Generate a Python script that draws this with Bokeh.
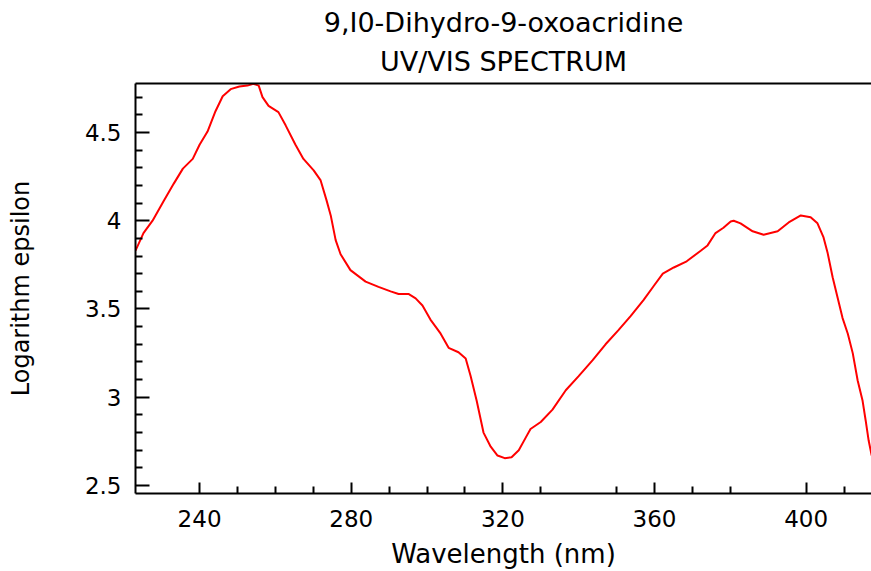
from bokeh.plotting import figure
from bokeh.models import Range1d, FixedTicker, LinearAxis, Title, CustomJSTickFormatter
from bokeh.embed import file_html
from bokeh.resources import INLINE

wavelength_nm = [223.1, 225.2, 227.6, 230.5, 233.2, 235.6, 238.2, 240.0, 242.1, 244.2,
                 246.1, 248.2, 250.5, 252.6, 254.2, 255.6, 256.6, 258.2, 260.8, 262.7,
                 265.3, 267.4, 270.1, 271.9, 273.5, 274.6, 275.9, 277.2, 279.8, 283.8,
                 287.2, 290.4, 292.5, 295.1, 297.0, 298.8, 300.9, 303.6, 305.7, 308.3,
                 310.2, 311.5, 313.1, 314.9, 316.8, 318.6, 320.5, 322.3, 324.2, 326.0,
                 327.3, 330.0, 333.1, 336.6, 340.0, 343.7, 347.1, 350.5, 353.7, 357.1,
                 359.8, 362.2, 365.1, 368.5, 372.2, 374.0, 376.1, 378.2, 380.1, 380.9,
                 382.7, 385.9, 388.8, 392.5, 395.4, 398.6, 401.2, 403.0, 404.6, 405.7,
                 407.0, 408.3, 409.6, 411.0, 412.3, 413.6, 414.9, 415.7, 416.5, 417.3]
log_epsilon = [3.83, 3.93, 4.00, 4.11, 4.21, 4.295, 4.35, 4.43, 4.505, 4.62,
               4.705, 4.745, 4.76, 4.765, 4.775, 4.765, 4.70, 4.65, 4.615, 4.54,
               4.43, 4.35, 4.285, 4.23, 4.115, 4.03, 3.89, 3.81, 3.72, 3.655,
               3.625, 3.60, 3.585, 3.585, 3.56, 3.52, 3.44, 3.36, 3.28, 3.255,
               3.22, 3.12, 2.98, 2.80, 2.72, 2.67, 2.655, 2.66, 2.70, 2.77,
               2.82, 2.86, 2.93, 3.04, 3.12, 3.21, 3.30, 3.38, 3.46, 3.55,
               3.63, 3.70, 3.735, 3.77, 3.83, 3.86, 3.93, 3.96, 3.995, 4.00,
               3.985, 3.94, 3.92, 3.94, 3.99, 4.03, 4.02, 3.985, 3.905, 3.815,
               3.68, 3.565, 3.45, 3.36, 3.25, 3.095, 2.98, 2.87, 2.755, 2.67]

x_major = [240, 280, 320, 360, 400]
x_minor = [250, 260, 270, 290, 300, 310, 330, 350, 370, 380, 410]
y_major = [2.5, 3.0, 3.5, 4.0, 4.5]
y_minor = [2.6, 2.7, 2.8, 2.9, 3.1, 3.2, 3.3, 3.4, 3.6, 3.7, 3.8, 3.9, 4.1, 4.2, 4.3, 4.4, 4.6, 4.7]

title_line1 = "9,I0-Dihydro-9-oxoacridine"
title_line2 = "UV/VIS SPECTRUM"

FONT = "DejaVu Sans"

p = figure(width=871, height=571, output_backend="svg", toolbar_location=None,
           title=None,
           x_range=Range1d(223.1, 417.25), y_range=Range1d(2.455, 4.777),
           min_border_left=135, min_border_right=0, min_border_top=83, min_border_bottom=78)

p.background_fill_color = "white"
p.border_fill_color = "white"
p.outline_line_color = None
p.xgrid.visible = False
p.ygrid.visible = False

p.line(wavelength_nm, log_epsilon, color="#ff0000", line_width=2)

for ax in (p.xaxis[0], p.yaxis[0]):
    ax.axis_line_width = 2
    ax.axis_line_color = "black"
    ax.major_tick_line_width = 2
    ax.minor_tick_line_width = 2
    ax.major_tick_line_color = "black"
    ax.minor_tick_line_color = "black"
    ax.major_tick_out = 0
    ax.minor_tick_out = 0
    ax.minor_tick_in = 7
    ax.major_label_text_font = FONT
    ax.major_label_text_font_size = "23px"
    ax.major_label_text_color = "black"
    ax.axis_label_text_font = FONT
    ax.axis_label_text_font_style = "normal"
    ax.axis_label_text_color = "black"

xa = p.xaxis[0]
xa.ticker = FixedTicker(ticks=x_major, minor_ticks=x_minor)
xa.major_tick_in = 11
xa.major_label_standoff = 16
xa.axis_label = "Wavelength (nm)"
xa.axis_label_text_font_size = "26px"
xa.axis_label_standoff = 9

ya = p.yaxis[0]
ya.ticker = FixedTicker(ticks=y_major, minor_ticks=y_minor)
ya.major_tick_in = 14
ya.major_label_standoff = 14
ya.formatter = CustomJSTickFormatter(code="return tick.toFixed(1).replace(/\\.0$/, '');")
ya.axis_label = "Logarithm epsilon"
ya.axis_label_text_font_size = "24px"
ya.axis_label_standoff = 47

top = LinearAxis(ticker=FixedTicker(ticks=[]), axis_line_width=2, axis_line_color="black",
                 major_label_text_font_size="0px", major_tick_in=0, major_tick_out=0,
                 minor_tick_in=0, minor_tick_out=0)
p.add_layout(top, "above")

p.add_layout(Title(text=title_line2, align="center", text_font=FONT, text_font_size="27px",
                   text_font_style="normal", text_color="black", standoff=13,
                   text_line_height=0.9), "above")
p.add_layout(Title(text=title_line1, align="center", text_font=FONT, text_font_size="27px",
                   text_font_style="normal", text_color="black", standoff=0), "above")

open("out.html", "w").write(file_html(p, INLINE))
